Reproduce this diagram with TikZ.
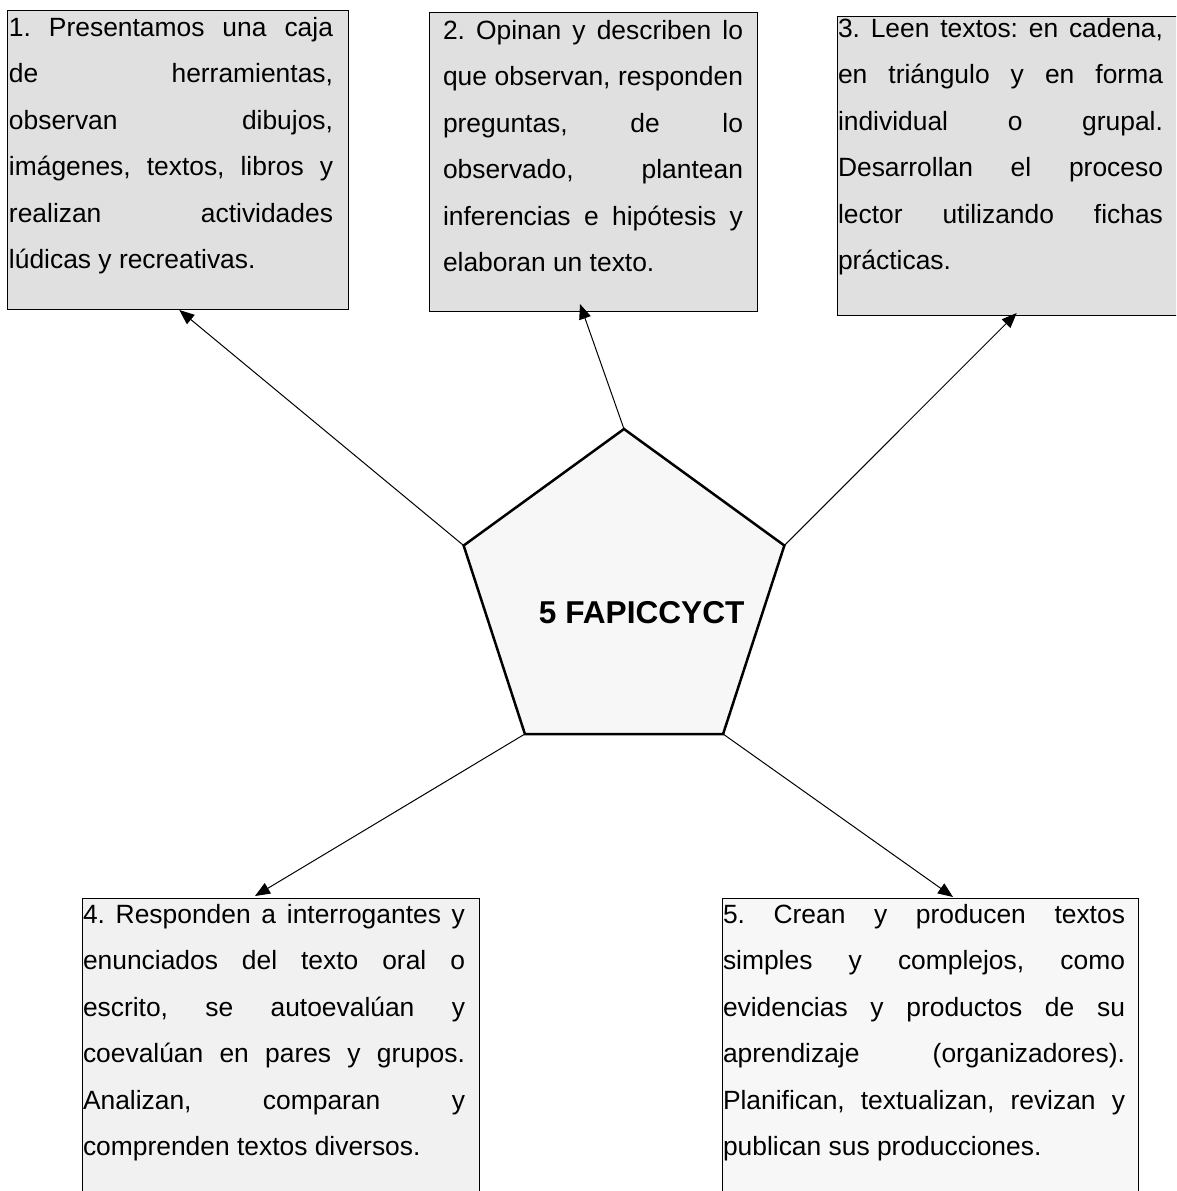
\documentclass[tikz,border=0pt]{standalone}
\usepackage{fontspec}
\setmainfont{Liberation Sans}
\usetikzlibrary{shapes.geometric,arrows.meta}
\newcommand\jl[2]{\makebox[#1][s]{#2}}
\frenchspacing
\begin{document}
\begin{tikzpicture}[x=1pt,y=-1pt,
  boxa/.style={draw=black,line width=1pt,rectangle,inner sep=0pt,outer sep=0pt,anchor=north west},
  txt/.style={anchor=north west,inner sep=0pt,outer sep=0pt,align=left,font=\fontsize{26.4}{46.5}\selectfont\frenchspacing},
  arr/.style={line width=1pt,-{Triangle[length=15pt,width=12pt]}},
  pent/.style={regular polygon,regular polygon sides=5,minimum size=337.2pt,draw=black,line width=2.5pt,fill=pentfill,inner sep=0pt,outer sep=0pt}
]
\definecolor{topfill}{HTML}{E0E0E0}
\definecolor{bfill}{HTML}{F1F1F1}
\definecolor{cfill}{HTML}{F7F7F7}
\definecolor{pentfill}{HTML}{F7F7F7}
\useasboundingbox (0,0) rectangle (1176,1191);
\clip (0,0) rectangle (1176,1191);

% boxes
\node[boxa,fill=topfill,minimum width=341pt,minimum height=299pt] (b1) at (7,10) {};
\node[boxa,fill=topfill,minimum width=328pt,minimum height=299pt] (b2) at (429,12) {};
\node[boxa,fill=topfill,minimum width=360pt,minimum height=299pt] (b3) at (837,16) {};
\node[boxa,fill=bfill,minimum width=397pt,minimum height=320pt] (b4) at (82,898) {};
\node[boxa,fill=cfill,minimum width=416pt,minimum height=320pt] (b5) at (722,898) {};

% texts
\node[txt] (t1) at (9,14) {\rule{0pt}{22pt}\jl{324pt}{1. Presentamos una caja}\\
\jl{324pt}{de herramientas,}\\
\jl{324pt}{observan dibujos,}\\
\jl{324pt}{imágenes, textos, libros y}\\
\jl{324pt}{realizan actividades}\\
lúdicas y recreativas.};

\node[txt] (t2) at (443,17) {\rule{0pt}{22pt}\jl{300pt}{2. Opinan y describen lo}\\
\jl{300pt}{que observan, responden}\\
\jl{300pt}{preguntas, de lo}\\
\jl{300pt}{observado, plantean}\\
\jl{300pt}{inferencias e hipótesis y}\\
elaboran un texto.};

\node[txt] (t3) at (838,15) {\rule{0pt}{22pt}\jl{325pt}{3. Leen textos: en cadena,}\\
\jl{325pt}{en triángulo y en forma}\\
\jl{325pt}{individual o grupal.}\\
\jl{325pt}{Desarrollan el proceso}\\
\jl{325pt}{lector utilizando fichas}\\
prácticas.};

\node[txt] (t4) at (83,901) {\rule{0pt}{22pt}\jl{382pt}{4. Responden a interrogantes y}\\
\jl{382pt}{enunciados del texto oral o}\\
\jl{382pt}{escrito, se autoevalúan y}\\
\jl{382pt}{coevalúan en pares y grupos.}\\
\jl{382pt}{Analizan, comparan y}\\
comprenden textos diversos.};

\node[txt] (t5) at (723,901) {\rule{0pt}{22pt}\jl{402pt}{5. Crean y producen textos}\\
\jl{402pt}{simples y complejos, como}\\
\jl{402pt}{evidencias y productos de su}\\
\jl{402pt}{aprendizaje (organizadores).}\\
\jl{402pt}{Planifican, textualizan, revizan y}\\
publican sus producciones.};

% pentagon
\node[pent] (p) at (624,597.6) {};
\node[anchor=base,inner sep=0pt,font=\fontsize{31.6}{36}\selectfont\bfseries] (pt) at (641.7,623.3) {5 FAPICCYCT};

% arrow tips
\coordinate (e1) at (179.3,310);
\coordinate (e2) at (580,304);
\coordinate (e3) at (1016.7,313);
\coordinate (e4) at (255,896);
\coordinate (e5) at (953,897);

\draw[arr] (p.corner 2) -- (e1);
\draw[arr] (p.corner 1) -- (e2);
\draw[arr] (p.corner 5) -- (e3);
\draw[arr] (p.corner 3) -- (e4);
\draw[arr] (p.corner 4) -- (e5);
\end{tikzpicture}
\end{document}
